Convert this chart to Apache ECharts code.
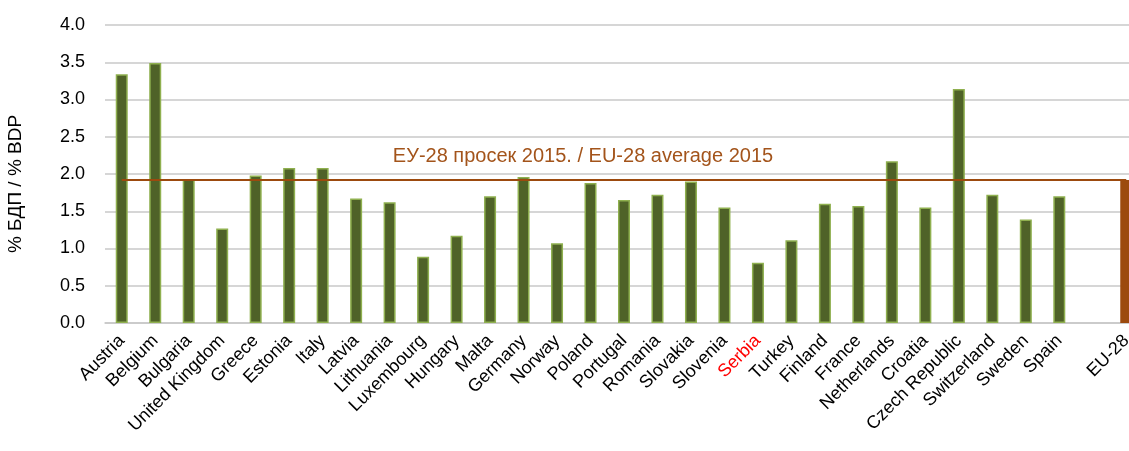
<!DOCTYPE html>
<html>
<head>
<meta charset="utf-8">
<title>R&D % BDP</title>
<script src="https://cdn.jsdelivr.net/npm/echarts@6/dist/echarts.min.js"></script>
<style>
	html, body { margin: 0; padding: 0; background: #fff; overflow: hidden; }
	#chart { width: 1129px; height: 451px; }
</style>
</head>
<body>
<div id="chart"></div>
<script>
// zemlje i vrednosti (% BDP)
var countries = ['Austria', 'Belgium', 'Bulgaria', 'United Kingdom', 'Greece', 'Estonia', 'Italy', 'Latvia',
	'Lithuania', 'Luxembourg', 'Hungary', 'Malta', 'Germany', 'Norway', 'Poland', 'Portugal', 'Romania',
	'Slovakia', 'Slovenia', 'Serbia', 'Turkey', 'Finland', 'France', 'Netherlands', 'Croatia',
	'Czech Republic', 'Switzerland', 'Sweden', 'Spain'];
var values = [3.34, 3.49, 1.93, 1.27, 1.98, 2.08, 2.08, 1.67,
	1.62, 0.89, 1.17, 1.70, 1.96, 1.07, 1.88, 1.65, 1.72,
	1.90, 1.55, 0.81, 1.11, 1.60, 1.57, 2.17, 1.55,
	3.14, 1.72, 1.39, 1.70];
var euLabel = 'EU-28';
var euValue = 1.92;
var avgText = 'ЕУ-28 просек 2015. / EU-28 average 2015';
var yTicks = ['0.0', '0.5', '1.0', '1.5', '2.0', '2.5', '3.0', '3.5', '4.0'];
var highlight = 'Serbia';

var green = '#4f6228';
var brown = '#9c4a0e';

var cats = [];
var data = [];
for (var i = 0; i < countries.length; i++) {
	cats.push(countries[i] === highlight ?
		{ value: countries[i], textStyle: { color: '#ff0000' } } : countries[i]);
	data.push(values[i]);
}
// prazna kategorija pre EU-28
cats.push('');
data.push(null);
cats.push(euLabel);
data.push({ value: euValue, itemStyle: { color: brown, borderWidth: 0 } });

var chart = echarts.init(document.getElementById('chart'));
chart.setOption({
	animation: false,
	textStyle: { fontFamily: 'Liberation Sans' },
	// grafik je odsecen s desne strane, zato je sirina veca od prozora
	grid: { left: 105, width: 1038, top: 25, bottom: 128, outerBoundsMode: 'none' },
	xAxis: {
		type: 'category',
		data: cats,
		axisLine: { lineStyle: { color: '#c8c8c8', width: 1.5 } },
		axisTick: { show: false },
		axisLabel: {
			interval: 0,
			rotate: 45,
			fontSize: 18,
			color: '#000',
			margin: 15
		}
	},
	yAxis: {
		type: 'value',
		min: 0,
		max: 4,
		interval: 0.5,
		name: '% БДП / % BDP',
		nameLocation: 'middle',
		nameRotate: 90,
		nameGap: 80,
		nameTextStyle: { fontSize: 19, color: '#000', padding: [0, 20, 0, 0] },
		axisLine: { show: false },
		axisTick: { show: false },
		splitLine: { lineStyle: { color: '#c8c8c8', width: 1.5 } },
		axisLabel: {
			fontSize: 18,
			color: '#000',
			margin: 20,
			formatter: function (v) { return yTicks[Math.round(v / 0.5)]; }
		}
	},
	series: [{
		type: 'bar',
		barWidth: 12,
		data: data,
		itemStyle: { color: green, borderColor: '#8fb04f', borderWidth: 1.5 },
		markLine: {
			silent: true,
			symbol: 'none',
			lineStyle: { color: brown, width: 2, type: 'solid' },
			label: {
				show: true,
				position: 'insideMiddleTop',
				formatter: avgText,
				color: '#a3541b',
				fontSize: 20,
				distance: 13,
				offset: [-41, 0]
			},
			data: [[
				{ coord: [countries[0], euValue] },
				{ coord: [euLabel, euValue] }
			]]
		}
	}]
});
</script>
</body>
</html>
